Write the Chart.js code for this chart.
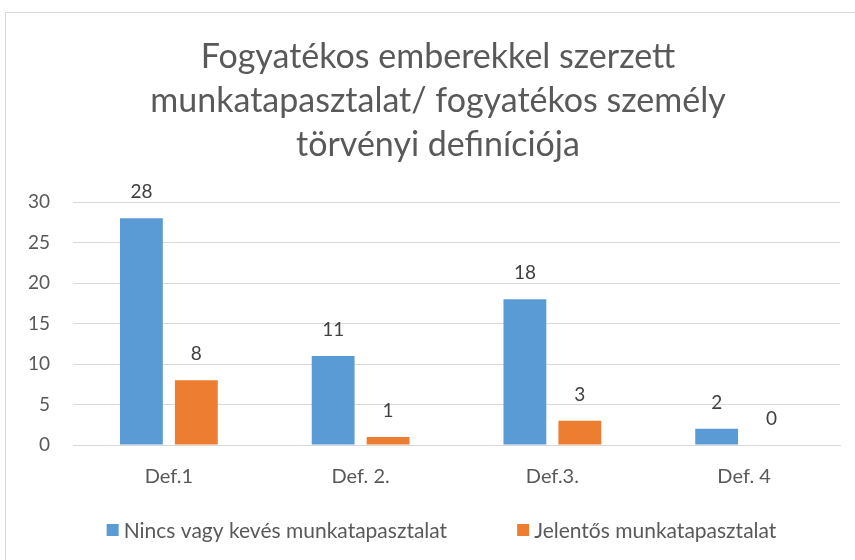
<!DOCTYPE html>
<html>
<head>
<meta charset="utf-8">
<script src="https://cdn.jsdelivr.net/npm/chart.js@4/dist/chart.umd.min.js"></script>
<style>
  html, body { margin: 0; padding: 0; background: #ffffff; overflow: hidden; }
  #frame { position: absolute; left: 5px; top: 12px; width: 900px; height: 600px; border: 1px solid #d9d9d9; }
  #wrap { position: absolute; left: 0; top: 0; width: 855px; height: 560px; }
</style>
</head>
<body>
<div id="frame"></div>
<div id="wrap"><canvas id="c" width="855" height="560"></canvas></div>
<script>
const categories = ['Def.1', 'Def. 2.', 'Def.3.', 'Def. 4'];
const seriesNames = ['Nincs vagy kevés munkatapasztalat', 'Jelentős munkatapasztalat'];
const littleExperience = [28, 11, 18, 2];
const significantExperience = [8, 1, 3, 0];
const titleLines = ['Fogyatékos emberekkel szerzett', 'munkatapasztalat/ fogyatékos személy', 'törvényi definíciója'];

const FONT = 'Lato, "Open Sans", sans-serif';
const TEXT = '#595959';

// Prints each bar's value just above it
const valueLabels = {
  id: 'valueLabels',
  afterDatasetsDraw(chart) {
    const ctx = chart.ctx;
    ctx.save();
    ctx.font = '19px ' + FONT;
    ctx.fillStyle = '#404040';
    ctx.textAlign = 'center';
    ctx.textBaseline = 'alphabetic';
    chart.data.datasets.forEach((ds, i) => {
      chart.getDatasetMeta(i).data.forEach((bar, j) => {
        ctx.fillText(String(ds.data[j]), bar.x, bar.y - 20);
      });
    });
    ctx.restore();
  }
};

// Three-line heading centred over the plot and a legend row underneath the axis
const headingAndKey = {
  id: 'headingAndKey',
  afterDraw(chart, args, opts) {
    const ctx = chart.ctx;
    ctx.save();
    ctx.fillStyle = TEXT;
    ctx.font = '34px ' + FONT;
    ctx.textAlign = 'center';
    ctx.textBaseline = 'middle';
    opts.lines.forEach((line, i) => ctx.fillText(line, opts.centerX, opts.firstLineY + i * opts.lineGap));

    ctx.font = '21px ' + FONT;
    ctx.textAlign = 'left';
    ctx.textBaseline = 'alphabetic';
    const box = 12, textGap = 5, itemGap = 70;
    const items = chart.data.datasets.map(ds => ({ text: ds.label, color: ds.backgroundColor, w: ctx.measureText(ds.label).width }));
    const total = items.reduce((s, it) => s + box + textGap + it.w, 0) + itemGap * (items.length - 1);
    let x = opts.centerX + 3.5 - total / 2;
    items.forEach(it => {
      ctx.fillStyle = it.color;
      ctx.fillRect(x, opts.keyY - box / 2, box, box);
      ctx.fillStyle = TEXT;
      ctx.fillText(it.text, x + box + textGap, opts.keyY + 7.5);
      x += box + textGap + it.w + itemGap;
    });
    ctx.restore();
  }
};

new Chart(document.getElementById('c'), {
  type: 'bar',
  data: {
    labels: categories,
    datasets: [
      { label: seriesNames[0], data: littleExperience, backgroundColor: '#5B9BD5' },
      { label: seriesNames[1], data: significantExperience, backgroundColor: '#ED7D31' }
    ]
  },
  options: {
    responsive: false,
    animation: false,
    devicePixelRatio: 1,
    layout: { padding: { left: 0, right: 15, top: 202, bottom: 71 } },
    datasets: { bar: { categoryPercentage: 0.573, barPercentage: 0.78 } },
    plugins: {
      title: { display: false },
      legend: { display: false },
      tooltip: { enabled: false },
      headingAndKey: { lines: titleLines, centerX: 438, firstLineY: 57, lineGap: 44, keyY: 530 }
    },
    scales: {
      y: {
        min: 0,
        max: 30,
        ticks: { stepSize: 5, color: TEXT, font: { family: FONT, size: 19 }, padding: 23 },
        grid: { color: '#d9d9d9', drawTicks: false },
        border: { display: false },
        afterFit(s) { s.width = 73; }
      },
      x: {
        ticks: { color: TEXT, font: { family: FONT, size: 20 }, padding: 20 },
        grid: { display: false, drawTicks: false },
        border: { color: '#d9d9d9' },
        afterFit(s) { s.height = 44; }
      }
    }
  },
  plugins: [valueLabels, headingAndKey]
});
</script>
</body>
</html>
